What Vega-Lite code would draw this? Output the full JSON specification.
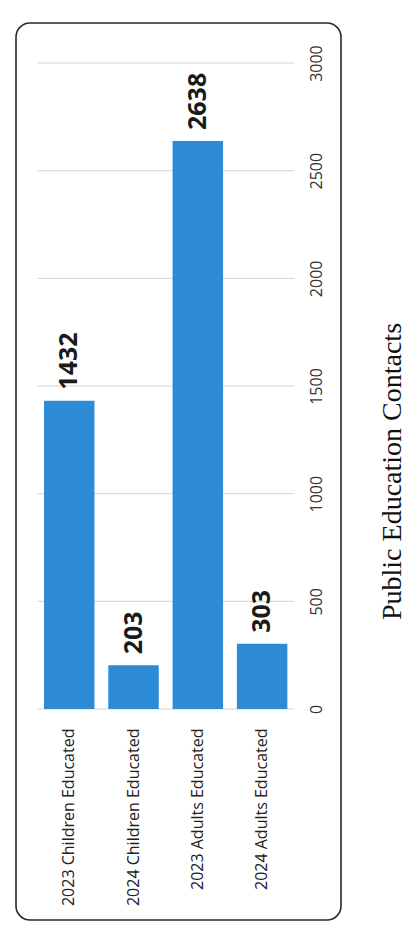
{
  "$schema": "https://vega.github.io/schema/vega-lite/v6.json",
  "width": 325,
  "height": 897,
  "autosize": {"type": "none"},
  "padding": {"left": 16, "top": 23, "right": 76, "bottom": 17},
  "background": "white",
  "config": {
    "view": {"stroke": "#2a2a2a", "strokeWidth": 1.6, "cornerRadius": 14}
  },
  "title": {
    "text": "Public Education Contacts",
    "orient": "right",
    "angle": 270,
    "anchor": "middle",
    "frame": "group",
    "baseline": "bottom",
    "offset": 38,
    "font": "Liberation Serif",
    "fontSize": 28,
    "fontWeight": "normal",
    "color": "#111111"
  },
  "datasets": {
    "contacts": [
      {"category": "2023 Children Educated", "value": 1432},
      {"category": "2024 Children Educated", "value": 203},
      {"category": "2023 Adults Educated", "value": 2638},
      {"category": "2024 Adults Educated", "value": 303}
    ],
    "gridlines": [
      {"value": 0}, {"value": 500}, {"value": 1000}, {"value": 1500},
      {"value": 2000}, {"value": 2500}, {"value": 3000}
    ]
  },
  "encoding": {
    "x": {
      "field": "category",
      "type": "nominal",
      "sort": null,
      "scale": {
        "domain": ["2023 Children Educated", "2024 Children Educated", "2023 Adults Educated", "2024 Adults Educated"],
        "paddingInner": 0.215,
        "paddingOuter": 0.635,
        "align": 0.343
      },
      "axis": {
        "orient": "bottom",
        "offset": -211,
        "title": null,
        "ticks": false,
        "domain": false,
        "grid": false,
        "labelAngle": 270,
        "labelAlign": "right",
        "labelBaseline": "middle",
        "labelPadding": 19,
        "labelFont": "Open Sans",
        "labelFontSize": 16,
        "labelColor": "#222222",
        "labelLimit": 400
      }
    },
    "y": {
      "field": "value",
      "type": "quantitative",
      "scale": {"domain": [-980, 3186], "nice": false, "zero": false},
      "axis": {
        "orient": "right",
        "offset": -35,
        "title": null,
        "values": [0, 500, 1000, 1500, 2000, 2500, 3000],
        "format": "d",
        "ticks": false,
        "domain": false,
        "grid": false,
        "labelAngle": 270,
        "labelAlign": "center",
        "labelBaseline": "top",
        "labelPadding": 2,
        "labelFont": "Open Sans",
        "labelFontSize": 16,
        "labelColor": "#333333"
      }
    }
  },
  "layer": [
    {
      "data": {"name": "gridlines"},
      "mark": {"type": "rule", "color": "#d4d4d4", "strokeWidth": 1},
      "encoding": {
        "x": {"datum": "2023 Children Educated", "type": "nominal", "bandPosition": -0.135, "title": null},
        "x2": {"datum": "2024 Adults Educated", "bandPosition": 1.135}
      }
    },
    {
      "data": {"name": "contacts"},
      "mark": {"type": "bar", "color": "#2D8BD6"},
      "encoding": {
        "y2": {"datum": 0}
      }
    },
    {
      "data": {"name": "contacts"},
      "mark": {
        "type": "text",
        "angle": 270,
        "align": "left",
        "baseline": "middle",
        "dx": 11,
        "font": "Open Sans",
        "fontSize": 25,
        "fontWeight": "bold",
        "color": "#1a1a1a"
      },
      "encoding": {
        "text": {"field": "value", "type": "quantitative", "format": "d"}
      }
    }
  ]
}
